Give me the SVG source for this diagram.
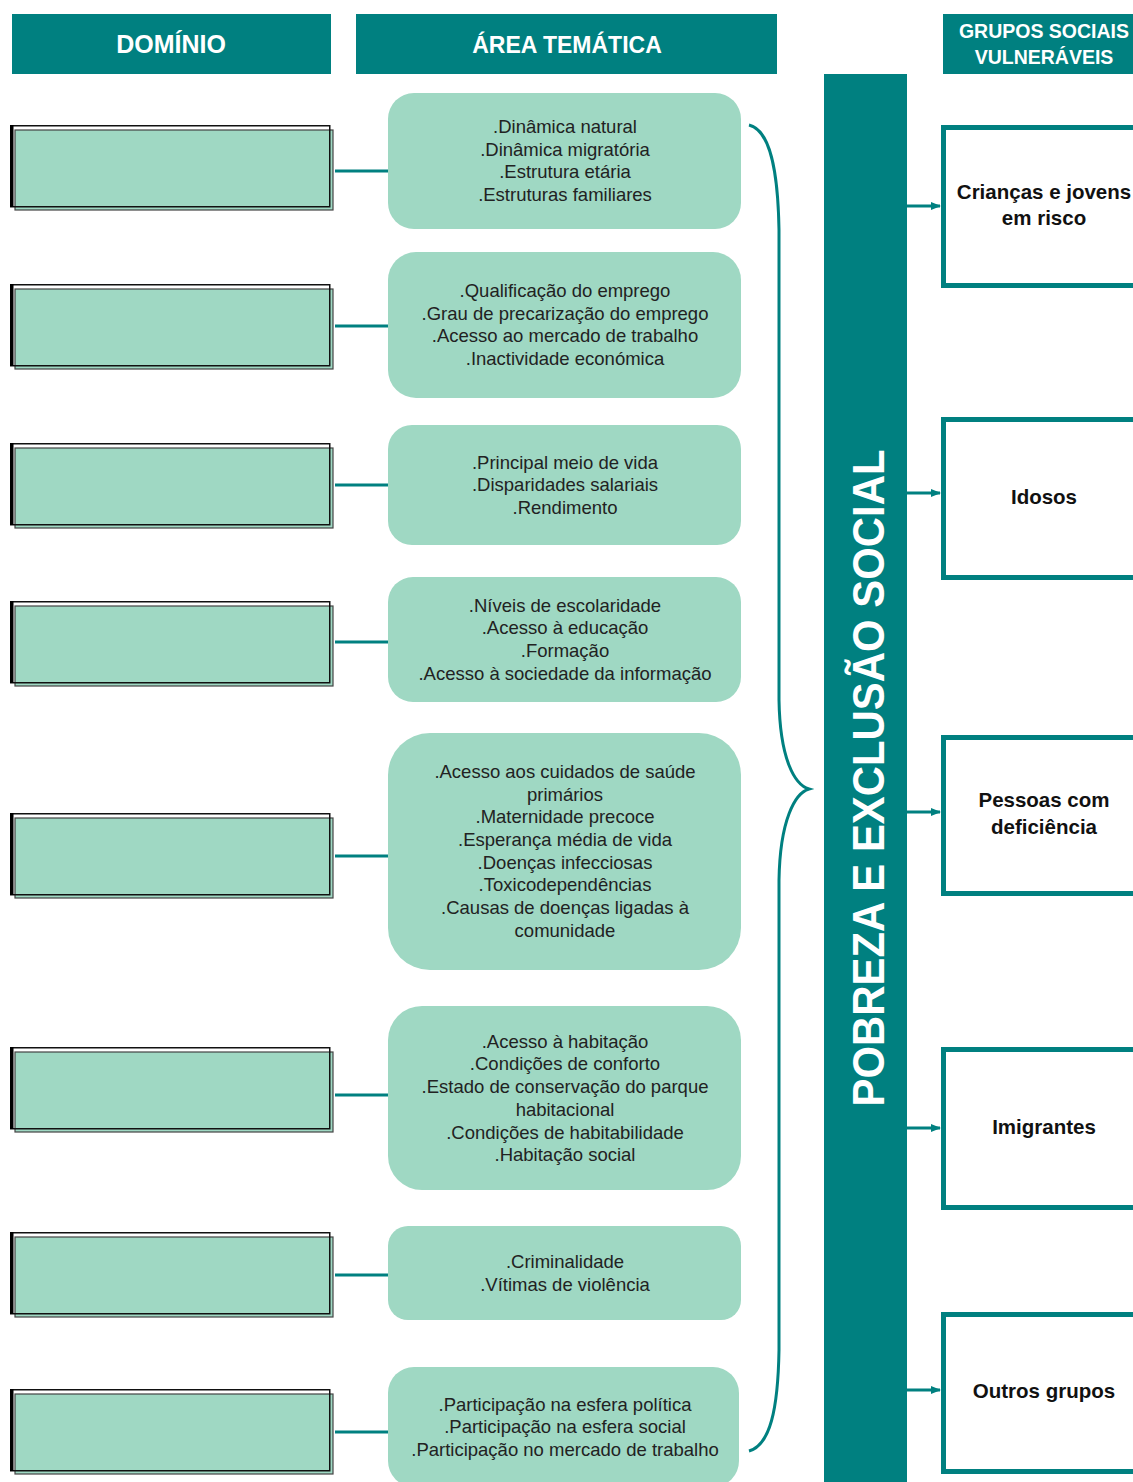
<svg xmlns="http://www.w3.org/2000/svg" width="1133" height="1482" viewBox="0 0 1133 1482">
<defs>
<style>
.hdr{fill:#008080}
.hdrt{font-family:"Liberation Sans",Arial,sans-serif;font-weight:bold;fill:#ffffff;text-anchor:middle}
.area{fill:#9fd8c3}
.at{font-family:"Liberation Sans",Arial,sans-serif;font-size:18.5px;fill:#222222;text-anchor:middle}
.dfill{fill:#9fd8c3;stroke:#444444;stroke-width:1.2}
.dframe{fill:none;stroke:#111111;stroke-width:1.5}
.dthick{fill:#000000}
.grp{fill:#ffffff;stroke:#008080;stroke-width:5}
.gt{font-family:"Liberation Sans",Arial,sans-serif;font-weight:bold;font-size:20.5px;fill:#111111;text-anchor:middle}
.conn{stroke:#008080;stroke-width:3;fill:none}
.arr{stroke:#008080;stroke-width:3;fill:none;marker-end:url(#ah)}
</style>
<marker id="ah" markerWidth="10" markerHeight="10" refX="9" refY="5" orient="auto" markerUnits="userSpaceOnUse">
<path d="M0,1 L10,5 L0,9 Z" fill="#008080"/>
</marker>
</defs>
<rect width="1133" height="1482" fill="#ffffff"/>

<g id="headers">
<rect class="hdr" x="12" y="14" width="319" height="60"/>
<text class="hdrt" x="171" y="53" font-size="25">DOMÍNIO</text>
<rect class="hdr" x="356" y="14" width="421" height="60"/>
<text class="hdrt" x="567" y="53" font-size="23">ÁREA TEMÁTICA</text>
<rect class="hdr" x="943" y="14" width="195" height="60"/>
<text class="hdrt" x="1044" y="38" font-size="19.5">GRUPOS SOCIAIS</text>
<text class="hdrt" x="1044" y="64" font-size="19.5">VULNERÁVEIS</text>
</g>

<g id="connectors">
<line class="conn" x1="335" y1="171" x2="388" y2="171"/>
<line class="conn" x1="335" y1="326" x2="388" y2="326"/>
<line class="conn" x1="335" y1="485" x2="388" y2="485"/>
<line class="conn" x1="335" y1="642" x2="388" y2="642"/>
<line class="conn" x1="335" y1="856" x2="388" y2="856"/>
<line class="conn" x1="335" y1="1095" x2="388" y2="1095"/>
<line class="conn" x1="335" y1="1275" x2="388" y2="1275"/>
<line class="conn" x1="335" y1="1432" x2="388" y2="1432"/>
<path class="conn" d="M749,125 C770,130 778,170 779,230 L779,700 C780,760 795,785 809,789 C795,793 780,820 779,880 L779,1350 C778,1410 770,1445 749,1451"/>
<line class="arr" x1="907" y1="206" x2="940" y2="206"/>
<line class="arr" x1="907" y1="493" x2="940" y2="493"/>
<line class="arr" x1="907" y1="812" x2="940" y2="812"/>
<line class="arr" x1="907" y1="1128" x2="940" y2="1128"/>
<line class="arr" x1="907" y1="1390" x2="940" y2="1390"/>
</g>

<g id="dominio-1"><rect class="dfill" x="15" y="130" width="318" height="80"/><rect class="dframe" x="10.75" y="125.75" width="319" height="81"/><rect class="dthick" x="10" y="125" width="3.5" height="82"/></g>
<g id="dominio-2"><rect class="dfill" x="15" y="289" width="318" height="80"/><rect class="dframe" x="10.75" y="284.75" width="319" height="81"/><rect class="dthick" x="10" y="284" width="3.5" height="82"/></g>
<g id="dominio-3"><rect class="dfill" x="15" y="448" width="318" height="80"/><rect class="dframe" x="10.75" y="443.75" width="319" height="81"/><rect class="dthick" x="10" y="443" width="3.5" height="82"/></g>
<g id="dominio-4"><rect class="dfill" x="15" y="606" width="318" height="80"/><rect class="dframe" x="10.75" y="601.75" width="319" height="81"/><rect class="dthick" x="10" y="601" width="3.5" height="82"/></g>
<g id="dominio-5"><rect class="dfill" x="15" y="818" width="318" height="80"/><rect class="dframe" x="10.75" y="813.75" width="319" height="81"/><rect class="dthick" x="10" y="813" width="3.5" height="82"/></g>
<g id="dominio-6"><rect class="dfill" x="15" y="1052" width="318" height="80"/><rect class="dframe" x="10.75" y="1047.75" width="319" height="81"/><rect class="dthick" x="10" y="1047" width="3.5" height="82"/></g>
<g id="dominio-7"><rect class="dfill" x="15" y="1237" width="318" height="80"/><rect class="dframe" x="10.75" y="1232.75" width="319" height="81"/><rect class="dthick" x="10" y="1232" width="3.5" height="82"/></g>
<g id="dominio-8"><rect class="dfill" x="15" y="1394" width="318" height="80"/><rect class="dframe" x="10.75" y="1389.75" width="319" height="81"/><rect class="dthick" x="10" y="1389" width="3.5" height="82"/></g>

<g id="area-1">
<rect class="area" x="388" y="93" width="353" height="136" rx="26"/>
<text class="at" x="565" y="133">.Dinâmica natural</text>
<text class="at" x="565" y="156">.Dinâmica migratória</text>
<text class="at" x="565" y="178">.Estrutura etária</text>
<text class="at" x="565" y="201">.Estruturas familiares</text>
</g>
<g id="area-2">
<rect class="area" x="388" y="252" width="353" height="146" rx="28"/>
<text class="at" x="565" y="297">.Qualificação do emprego</text>
<text class="at" x="565" y="320">.Grau de precarização do emprego</text>
<text class="at" x="565" y="342">.Acesso ao mercado de trabalho</text>
<text class="at" x="565" y="365">.Inactividade económica</text>
</g>
<g id="area-3">
<rect class="area" x="388" y="425" width="353" height="120" rx="24"/>
<text class="at" x="565" y="469">.Principal meio de vida</text>
<text class="at" x="565" y="491">.Disparidades salariais</text>
<text class="at" x="565" y="514">.Rendimento</text>
</g>
<g id="area-4">
<rect class="area" x="388" y="577" width="353" height="125" rx="25"/>
<text class="at" x="565" y="612">.Níveis de escolaridade</text>
<text class="at" x="565" y="634">.Acesso à educação</text>
<text class="at" x="565" y="657">.Formação</text>
<text class="at" x="565" y="680">.Acesso à sociedade da informação</text>
</g>
<g id="area-5">
<rect class="area" x="388" y="733" width="353" height="237" rx="42"/>
<text class="at" x="565" y="778">.Acesso aos cuidados de saúde</text>
<text class="at" x="565" y="801">primários</text>
<text class="at" x="565" y="823">.Maternidade precoce</text>
<text class="at" x="565" y="846">.Esperança média de vida</text>
<text class="at" x="565" y="869">.Doenças infecciosas</text>
<text class="at" x="565" y="891">.Toxicodependências</text>
<text class="at" x="565" y="914">.Causas de doenças ligadas à</text>
<text class="at" x="565" y="937">comunidade</text>
</g>
<g id="area-6">
<rect class="area" x="388" y="1006" width="353" height="184" rx="34"/>
<text class="at" x="565" y="1048">.Acesso à habitação</text>
<text class="at" x="565" y="1070">.Condições de conforto</text>
<text class="at" x="565" y="1093">.Estado de conservação do parque</text>
<text class="at" x="565" y="1116">habitacional</text>
<text class="at" x="565" y="1139">.Condições de habitabilidade</text>
<text class="at" x="565" y="1161">.Habitação social</text>
</g>
<g id="area-7">
<rect class="area" x="388" y="1226" width="353" height="94" rx="20"/>
<text class="at" x="565" y="1268">.Criminalidade</text>
<text class="at" x="565" y="1291">.Vítimas de violência</text>
</g>
<g id="area-8">
<rect class="area" x="388" y="1367" width="351" height="120" rx="26"/>
<text class="at" x="565" y="1411">.Participação na esfera política</text>
<text class="at" x="565" y="1433">.Participação na esfera social</text>
<text class="at" x="565" y="1456">.Participação no mercado de trabalho</text>
</g>

<g id="pobreza">
<rect class="hdr" x="824" y="74" width="83" height="1410"/>
<text class="hdrt" transform="translate(884,778) rotate(-90)" x="0" y="0" font-size="45" textLength="657" lengthAdjust="spacingAndGlyphs">POBREZA E EXCLUSÃO SOCIAL</text>
</g>

<g id="grupo-1"><rect class="grp" x="943.5" y="127.5" width="200" height="158"/>
<text class="gt" x="1044" y="199">Crianças e jovens</text><text class="gt" x="1044" y="225">em risco</text></g>
<g id="grupo-2"><rect class="grp" x="943.5" y="419.5" width="200" height="158"/>
<text class="gt" x="1044" y="504">Idosos</text></g>
<g id="grupo-3"><rect class="grp" x="943.5" y="737.5" width="200" height="156"/>
<text class="gt" x="1044" y="807">Pessoas com</text><text class="gt" x="1044" y="834">deficiência</text></g>
<g id="grupo-4"><rect class="grp" x="943.5" y="1049.5" width="200" height="158"/>
<text class="gt" x="1044" y="1134">Imigrantes</text></g>
<g id="grupo-5"><rect class="grp" x="943.5" y="1314.5" width="200" height="157"/>
<text class="gt" x="1044" y="1398">Outros grupos</text></g>
</svg>
